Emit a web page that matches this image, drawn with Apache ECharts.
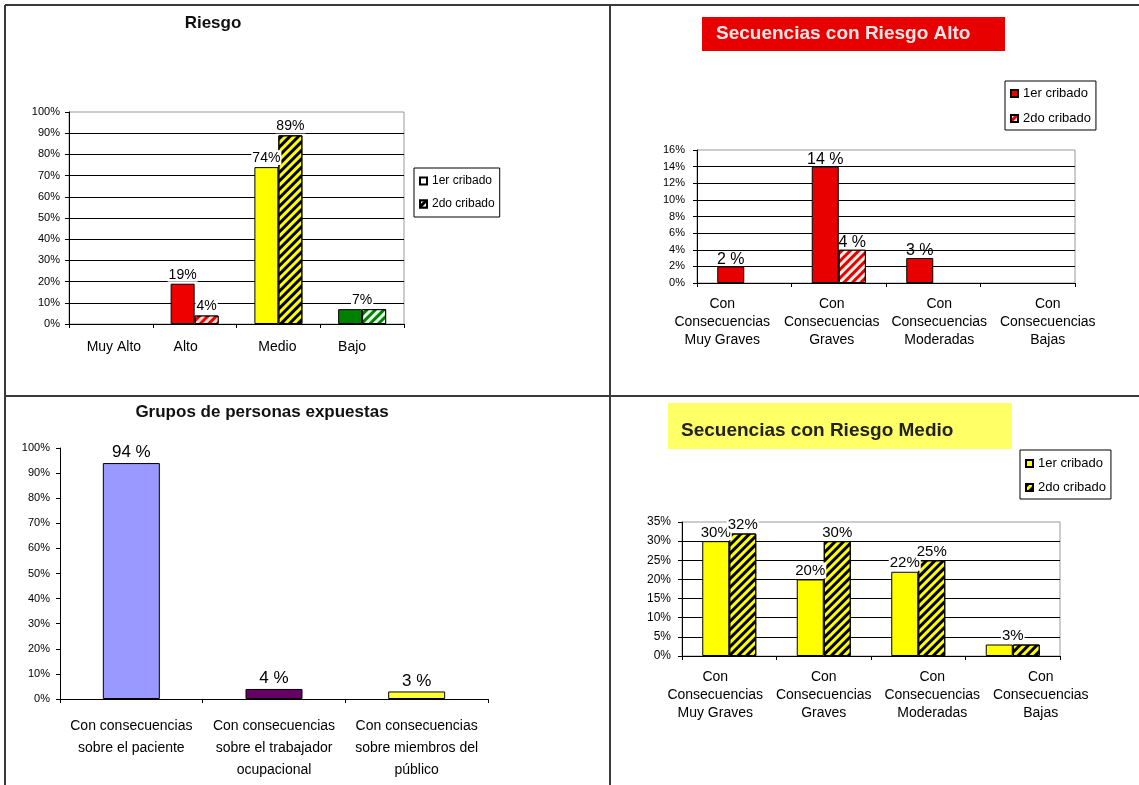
<!DOCTYPE html>
<html><head><meta charset="utf-8">
<script src="https://cdn.jsdelivr.net/npm/echarts@6/dist/echarts.min.js"></script>
<style>html,body{margin:0;padding:0;background:#fff}#c{width:1139px;height:785px}</style>
</head><body><div id="c"></div>
<script>
// ---------- DATA ----------
const riesgoCats = ['Muy Alto', 'Alto', 'Medio', 'Bajo'];
const riesgo1 = [0, 19, 74, 7];
const riesgo2 = [0, 4, 89, 7];

const altoCats = ['Con\nConsecuencias\nMuy Graves', 'Con\nConsecuencias\nGraves', 'Con\nConsecuencias\nModeradas', 'Con\nConsecuencias\nBajas'];
const alto1 = [2, 14, 3, 0];
const alto2 = [0, 4, 0, 0];

const grupoCats = ['Con consecuencias\nsobre el paciente', 'Con consecuencias\nsobre el trabajador\nocupacional', 'Con consecuencias\nsobre miembros del\npúblico'];
const grupoVals = [94, 4, 3];

const medioCats = ['Con\nConsecuencias\nMuy Graves', 'Con\nConsecuencias\nGraves', 'Con\nConsecuencias\nModeradas', 'Con\nConsecuencias\nBajas'];
const medio1 = [30, 20, 22, 3];
const medio2 = [32, 30, 25, 3];

const serieNames = ['1er cribado', '2do cribado'];

// ---------- STYLE ----------
const FONT = "'Liberation Sans', Arial, sans-serif";
const riesgoFill = ['#ffffff', '#ee0000', '#ffff00', '#008000'];
const riesgoStripe = ['#ffffff', '#ffd8d0', '#000000', '#e8ffe8'];
const RED = '#e80000';
const grupoFill = ['#9999ff', '#660066', '#ffff33'];

function hatch(color) {
  return { symbol: 'rect', symbolSize: 1, dashArrayX: [1, 0], dashArrayY: [3, 3], rotation: -Math.PI / 4, color: color };
}
function fmt(suffix) { return p => (p.value ? p.value + suffix : ''); }
function barVal(v) { return v === 0 ? '-' : v; }

function pairSeries(axis, names, v1, v2, fill1, fill2, stripe, bw, lab) {
  const merged = v1.map((v, i) => v > 0 && v === v2[i]);
  const baseLabel = Object.assign({ show: true, position: 'top', distance: 2, color: '#000', fontFamily: FONT }, lab);
  const s1 = {
    name: names[0], type: 'bar', xAxisIndex: axis, yAxisIndex: axis, barWidth: bw, barGap: '0%',
    itemStyle: { color: fill1(-1), borderColor: '#000', borderWidth: 1 },
    label: baseLabel,
    data: v1.map((v, i) => {
      const d = { value: barVal(v), itemStyle: { color: fill1(i) } };
      if (merged[i]) d.label = { offset: [bw / 2, 0] };
      return d;
    })
  };
  const s2 = {
    name: names[1], type: 'bar', xAxisIndex: axis, yAxisIndex: axis, barWidth: bw, barGap: '0%',
    itemStyle: { color: fill2(-1), borderColor: '#000', borderWidth: 1, decal: hatch(stripe(-1)) },
    label: baseLabel,
    data: v2.map((v, i) => {
      const d = { value: barVal(v), itemStyle: { color: fill2(i), decal: hatch(stripe(i)) } };
      if (merged[i]) d.label = { show: false };
      return d;
    })
  };
  return [s1, s2];
}

function yAx(grid, max, interval, margin, size, split) {
  return {
    type: 'value', gridIndex: grid, min: 0, max: max, interval: interval,
    axisLine: { show: true, lineStyle: { color: '#000', width: 1 } },
    axisTick: { show: true, length: 4, lineStyle: { color: '#000' } },
    axisLabel: { formatter: '{value}%', fontSize: size, color: '#000', fontFamily: FONT, margin: margin },
    splitLine: { show: split, showMaxLine: false, lineStyle: { color: '#000', width: 1 } }
  };
}
// shifts: horizontal offset (px) of each category label from its band centre
function xAx(grid, cats, margin, size, lh, shifts) {
  const rich = {};
  shifts.forEach((dx, i) => {
    rich['s' + i] = {
      fontSize: size, lineHeight: lh, color: '#000', fontFamily: FONT,
      padding: dx >= 0 ? [0, 0, 0, 2 * dx] : [0, -2 * dx, 0, 0]
    };
  });
  return {
    type: 'category', gridIndex: grid, data: cats,
    axisLine: { show: true, lineStyle: { color: '#000', width: 1 } },
    axisTick: { show: true, length: 4, lineStyle: { color: '#000' } },
    axisLabel: {
      interval: 0, fontSize: size, lineHeight: lh, color: '#000', fontFamily: FONT, margin: margin,
      formatter: (val, idx) => val.split('\n').map(l => '{s' + idx + '|' + l + '}').join('\n'),
      rich: rich
    }
  };
}
function legendBox(left, top, names, size, gap, pad) {
  return {
    left: left, top: top, orient: 'vertical', data: names, selectedMode: false,
    formatter: n => n.trim(), icon: 'rect', itemWidth: 7, itemHeight: 7, itemGap: gap,
    borderColor: '#000', borderWidth: 1, padding: pad, backgroundColor: '#fff',
    textStyle: { fontSize: size, color: '#000', fontFamily: FONT }
  };
}

const n2 = serieNames.map(n => n + ' ');
const n4 = serieNames.map(n => n + '  ');

const series = [].concat(
  pairSeries(0, serieNames, riesgo1, riesgo2,
    i => (i < 0 ? '#ffffff' : riesgoFill[i]), i => (i < 0 ? '#000000' : riesgoFill[i]),
    i => (i < 0 ? '#ffffff' : riesgoStripe[i]), 24,
    { formatter: fmt('%'), fontSize: 14, backgroundColor: '#fff', padding: [1, 1, 0, 1] }),
  pairSeries(1, n2, alto1, alto2,
    () => RED, () => RED, () => '#fff0e8', 27,
    { formatter: fmt(' %'), fontSize: 16, distance: -1 }),
  [{
    name: 'grupos', type: 'bar', xAxisIndex: 2, yAxisIndex: 2, barWidth: 57,
    itemStyle: { borderColor: '#000', borderWidth: 1 },
    label: { show: true, position: 'top', distance: 2, formatter: fmt(' %'), fontSize: 17, color: '#000', fontFamily: FONT },
    data: grupoVals.map((v, i) => ({ value: barVal(v), itemStyle: { color: grupoFill[i] } }))
  }],
  pairSeries(3, n4, medio1, medio2,
    () => '#ffff00', () => '#ffff00', () => '#000000', 27,
    { formatter: fmt('%'), fontSize: 15, backgroundColor: '#fff', padding: [1, 1, 0, 1], distance: 1 })
);

const lineStyle = { stroke: '#3a3a3a', lineWidth: 2 };
const option = {
  animation: false,
  backgroundColor: '#fff',
  grid: [
    { left: 69, top: 112, width: 335, height: 212, show: true, borderColor: '#999', borderWidth: 1 },
    { left: 697, top: 150, width: 378, height: 133, show: true, borderColor: '#999', borderWidth: 1 },
    { left: 60, top: 448, width: 428, height: 251 },
    { left: 682, top: 522, width: 378, height: 134, show: true, borderColor: '#999', borderWidth: 1 }
  ],
  xAxis: [
    xAx(0, riesgoCats, 15, 14, 16, [3, -9, -1, -10]),
    xAx(1, altoCats, 12, 14, 18, [-22, -7, 6, 20]),
    xAx(2, grupoCats, 16, 14, 22, [0, 0, 0]),
    xAx(3, medioCats, 12, 14, 18, [-14, 0, 14, 28])
  ],
  yAxis: [
    yAx(0, 100, 10, 9, 11, true),
    yAx(1, 16, 2, 12, 11, true),
    yAx(2, 100, 10, 10, 11, false),
    yAx(3, 35, 5, 11, 12, true)
  ],
  legend: [
    legendBox(414, 168, serieNames, 12, 11, [7, 5, 7, 5]),
    legendBox(1005, 81, n2, 13, 12, [6, 5, 5, 5]),
    legendBox(1020, 450, n4, 13, 11, [7, 5, 5, 5])
  ],
  series: series,
  graphic: [
    { type: 'line', shape: { x1: 5, y1: 5, x2: 1139, y2: 5 }, style: lineStyle, z: 50 },
    { type: 'line', shape: { x1: 5, y1: 5, x2: 5, y2: 785 }, style: lineStyle, z: 50 },
    { type: 'line', shape: { x1: 610, y1: 5, x2: 610, y2: 785 }, style: lineStyle, z: 50 },
    { type: 'line', shape: { x1: 5, y1: 396, x2: 1139, y2: 396 }, style: lineStyle, z: 50 },
    { type: 'rect', shape: { x: 702, y: 17, width: 303, height: 34 }, style: { fill: RED }, z: 1 },
    { type: 'rect', shape: { x: 668, y: 403, width: 344, height: 46 }, style: { fill: '#ffff66' }, z: 1 },
    { type: 'text', x: 213, y: 23, z: 60, style: { text: 'Riesgo', textAlign: 'center', textVerticalAlign: 'middle', fontSize: 17, fontWeight: 'bold', fontFamily: FONT, fill: '#111' } },
    { type: 'text', x: 262, y: 412, z: 60, style: { text: 'Grupos de personas expuestas', textAlign: 'center', textVerticalAlign: 'middle', fontSize: 17, fontWeight: 'bold', fontFamily: FONT, fill: '#111' } },
    { type: 'text', x: 716, y: 34, z: 60, style: { text: 'Secuencias con Riesgo Alto', textAlign: 'left', textVerticalAlign: 'middle', fontSize: 19, fontWeight: 'bold', fontFamily: FONT, fill: '#ffe6e6' } },
    { type: 'text', x: 681, y: 431, z: 60, style: { text: 'Secuencias con Riesgo Medio', textAlign: 'left', textVerticalAlign: 'middle', fontSize: 19, fontWeight: 'bold', fontFamily: FONT, fill: '#222' } }
  ]
};
const chart = echarts.init(document.getElementById('c'), null, { renderer: 'canvas' });
chart.setOption(option);
</script>
</body></html>
